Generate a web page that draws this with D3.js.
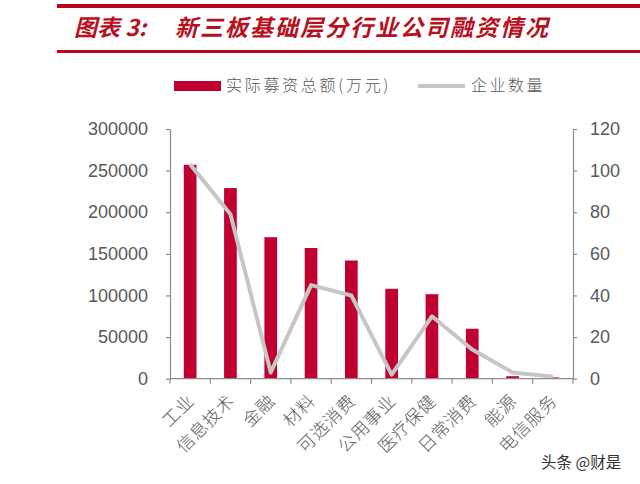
<!DOCTYPE html>
<html>
<head>
<meta charset="utf-8">
<script src="https://cdn.jsdelivr.net/npm/d3@7"></script>
<style>
  html, body { margin: 0; padding: 0; background: #fff; }
  svg { display: block; }
</style>
</head>
<body>
<svg id="chart" width="640" height="484"></svg>
<script>
const categories = ["工业", "信息技术", "金融", "材料", "可选消费", "公用事业", "医疗保健", "日常消费", "能源", "电信服务"];
const financing = [257000, 229000, 170000, 157000, 142000, 108000, 101500, 60000, 3000, 1500];
const companies = [103, 79, 3, 45, 40, 2, 30, 14, 3, 1];
const leftTicks = [0, 50000, 100000, 150000, 200000, 250000, 300000];
const rightTicks = [0, 20, 40, 60, 80, 100, 120];
const titleLabel = "图表 3:";
const titleText = "新三板基础层分行业公司融资情况";
const legendLabels = ["实际募资总额(万元)", "企业数量"];
const watermark = "头条 @财是";

const svg = d3.select("#chart");
const pL = 170, pR = 573, pT = 129, pB = 378.7;
const barColor = "#c00030", lineColor = "#c6c6c6", axisColor = "#8c8c8c", textColor = "#595959";
const cjk = "'Noto Sans CJK SC', 'Noto Sans', sans-serif";

// Title
svg.append("rect").attr("x", 57).attr("y", 4).attr("width", 583).attr("height", 4).attr("fill", "#c0001a");
svg.append("rect").attr("x", 57).attr("y", 50).attr("width", 583).attr("height", 3).attr("fill", "#c0001a");
svg.append("text").attr("x", 74).attr("y", 36)
  .attr("font-family", cjk).attr("font-size", 23).attr("font-weight", 700).attr("font-style", "italic")
  .attr("fill", "#b8101e").text(titleLabel);
svg.append("text").attr("x", 175).attr("y", 36)
  .attr("font-family", cjk).attr("font-size", 23).attr("font-weight", 700).attr("font-style", "italic")
  .attr("letter-spacing", 2).attr("fill", "#b8101e").text(titleText);

// Scales
const x = d3.scaleBand().domain(categories).range([pL, pR]).padding(0);
const yL = d3.scaleLinear().domain([0, 300000]).range([pB, pT]);
const yR = d3.scaleLinear().domain([0, 120]).range([pB, pT]);
const barW = x.bandwidth() * 0.315;

// Axes
const axL = svg.append("g").attr("transform", `translate(${pL},0)`)
  .call(d3.axisLeft(yL).tickValues(leftTicks).tickFormat(d3.format("d")).tickSize(4).tickSizeOuter(0).tickPadding(18));
const axR = svg.append("g").attr("transform", `translate(${pR},0)`)
  .call(d3.axisRight(yR).tickValues(rightTicks).tickFormat(d3.format("d")).tickSize(4).tickSizeOuter(0).tickPadding(13));
[axL, axR].forEach(g => {
  g.selectAll("path, line").attr("stroke", axisColor).attr("stroke-width", 1.2);
  g.selectAll("text").attr("font-family", "Liberation Sans, Arial, sans-serif").attr("font-size", 18).attr("fill", textColor);
});

// Bars
svg.append("g").selectAll("rect").data(categories).join("rect")
  .attr("x", (c) => x(c) + x.bandwidth() / 2 - barW / 2)
  .attr("y", (c, i) => yL(financing[i]))
  .attr("width", barW)
  .attr("height", (c, i) => pB - yL(financing[i]))
  .attr("fill", barColor);

// Line
const line = d3.line().x((d, i) => x(categories[i]) + x.bandwidth() / 2).y(d => yR(d));
svg.append("path").datum(companies).attr("d", line)
  .attr("fill", "none").attr("stroke", lineColor).attr("stroke-width", 4).attr("stroke-linejoin", "round");

// X axis baseline and ticks
svg.append("line").attr("x1", pL).attr("x2", pR).attr("y1", pB).attr("y2", pB)
  .attr("stroke", axisColor).attr("stroke-width", 1.2);
const bounds = categories.map(c => x(c)).concat([pR]);
svg.append("g").selectAll("line").data(bounds).join("line")
  .attr("x1", d => d).attr("x2", d => d).attr("y1", pB).attr("y2", pB + 5)
  .attr("stroke", axisColor).attr("stroke-width", 1.2);

// X labels
svg.append("g").selectAll("text").data(categories).join("text")
  .attr("transform", c => `translate(${x(c) + x.bandwidth() / 2 + 1},${pB + 19}) rotate(-45)`)
  .attr("text-anchor", "end").attr("dy", "0.35em")
  .attr("font-family", cjk).attr("font-size", 17.5).attr("font-weight", 300)
  .attr("letter-spacing", 0.8)
  .attr("fill", "#606060").text(c => c);

// Legend
svg.append("rect").attr("x", 174).attr("y", 81).attr("width", 47).attr("height", 10).attr("fill", barColor);
svg.append("text").attr("x", 226).attr("y", 91).attr("font-family", cjk).attr("font-size", 16).attr("font-weight", 300)
  .attr("letter-spacing", 2.7).attr("fill", textColor).text(legendLabels[0]);
svg.append("line").attr("x1", 418).attr("x2", 465).attr("y1", 86).attr("y2", 86)
  .attr("stroke", lineColor).attr("stroke-width", 4);
svg.append("text").attr("x", 471).attr("y", 91).attr("font-family", cjk).attr("font-size", 16).attr("font-weight", 300)
  .attr("letter-spacing", 2.5).attr("fill", textColor).text(legendLabels[1]);

// Watermark
svg.append("text").attr("x", 541).attr("y", 468).attr("font-family", cjk).attr("font-size", 15.5)
  .attr("fill", "#333").text(watermark);
</script>
</body>
</html>
